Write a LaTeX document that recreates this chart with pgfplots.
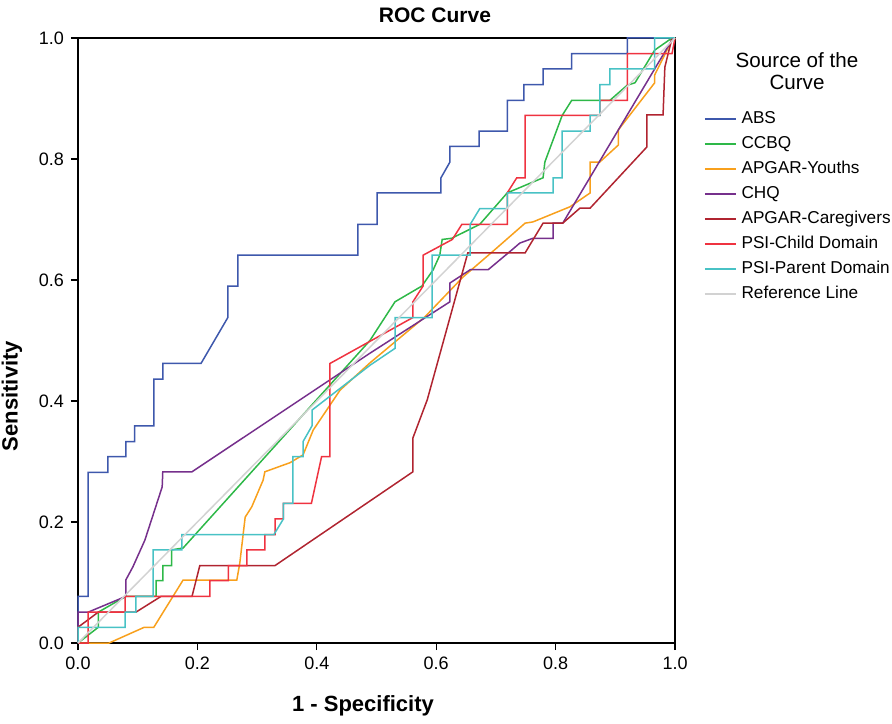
\documentclass[border=0pt]{standalone}
\usepackage{fontspec}
\setmainfont{Liberation Sans}
\usepackage{pgfplots}
\pgfplotsset{compat=1.18}

\definecolor{cABS}{RGB}{62,88,172}
\definecolor{cCCBQ}{RGB}{46,184,72}
\definecolor{cYouth}{RGB}{248,160,28}
\definecolor{cCHQ}{RGB}{118,48,140}
\definecolor{cCare}{RGB}{176,36,48}
\definecolor{cChild}{RGB}{239,51,64}
\definecolor{cParent}{RGB}{72,194,197}
\definecolor{cRef}{RGB}{210,210,210}

\begin{document}
\begin{tikzpicture}
\useasboundingbox (-39pt,-40pt) rectangle (407pt,321.5pt);
\begin{axis}[
    at={(0,0)}, anchor=south west,
    scale only axis, width=298.5pt, height=302.5pt,
    xmin=0, xmax=1, ymin=0, ymax=1,
    xtick={0,0.2,0.4,0.6,0.8,1},
    ytick={0,0.2,0.4,0.6,0.8,1},
    xtick pos=bottom, ytick pos=left,
    tick align=outside, major tick length=3.5pt,
    tick style={black, line width=0.6pt},
    axis line style={line width=0.8pt},
    ticklabel style={font=\fontsize{9}{10}\selectfont,
        /pgf/number format/fixed, /pgf/number format/fixed zerofill,
        /pgf/number format/precision=1},
    /pgf/number format/assume math mode=true,
    clip=false,
    every axis plot/.append style={line width=0.75pt, mark=none},
    legend cell align=left,
    legend style={at={(1.0486,0.8785)}, anchor=north west, draw=none, fill=none,
        inner sep=0pt, outer sep=0pt, row sep=5pt, column sep=2.5pt,
        font=\fontsize{8.6}{9}\selectfont,
        nodes={inner sep=0pt, text height=6pt, text depth=1.5pt}},
    legend image code/.code={\draw[#1] (0pt,0pt) -- (15.5pt,0pt);},
]
% ABS
\addplot[cABS] coordinates {
(0,0) (0,0.077) (0.017,0.077) (0.017,0.282) (0.050,0.282) (0.050,0.308)
(0.080,0.308) (0.080,0.333) (0.095,0.333) (0.095,0.359) (0.127,0.359)
(0.127,0.436) (0.142,0.436) (0.142,0.462) (0.206,0.462) (0.251,0.538)
(0.251,0.590) (0.268,0.590) (0.268,0.641) (0.469,0.641) (0.469,0.692)
(0.501,0.692) (0.501,0.744) (0.608,0.744) (0.608,0.769) (0.623,0.795)
(0.623,0.821) (0.672,0.821) (0.672,0.846) (0.719,0.846) (0.719,0.897)
(0.747,0.897) (0.747,0.923) (0.779,0.923) (0.779,0.949) (0.827,0.949)
(0.827,0.974) (0.920,0.974) (0.920,1) (1,1)
};
% CCBQ
\addplot[cCCBQ] coordinates {
(0,0) (0.034,0.026) (0.034,0.051) (0.080,0.077) (0.131,0.077) (0.131,0.103)
(0.142,0.103) (0.142,0.128) (0.157,0.128) (0.157,0.154) (0.176,0.157)
(0.489,0.500) (0.531,0.564) (0.576,0.590) (0.595,0.617) (0.606,0.641)
(0.610,0.667) (0.626,0.669) (0.673,0.692) (0.719,0.744) (0.779,0.769)
(0.782,0.795) (0.811,0.872) (0.827,0.897) (0.891,0.897) (0.920,0.922)
(0.933,0.926) (0.966,0.980) (0.995,1) (1,1)
};
% APGAR-Youths
\addplot[cYouth] coordinates {
(0,0) (0.052,0) (0.111,0.026) (0.127,0.026) (0.176,0.104) (0.266,0.104)
(0.271,0.132) (0.280,0.208) (0.291,0.225) (0.310,0.269) (0.313,0.283)
(0.355,0.298) (0.377,0.311) (0.394,0.352) (0.439,0.418) (0.489,0.463)
(0.581,0.539) (0.645,0.605) (0.698,0.650) (0.749,0.694) (0.762,0.696)
(0.824,0.721) (0.858,0.744) (0.858,0.795) (0.874,0.795) (0.905,0.823)
(0.905,0.848) (0.966,0.926) (0.966,0.939) (0.995,0.997) (1,1)
};
% CHQ
\addplot[cCHQ] coordinates {
(0,0) (0,0.051) (0.017,0.051) (0.080,0.077) (0.080,0.104) (0.092,0.126)
(0.112,0.170) (0.141,0.258) (0.142,0.283) (0.191,0.283) (0.489,0.479)
(0.623,0.564) (0.623,0.595) (0.657,0.617) (0.687,0.617) (0.727,0.650)
(0.740,0.661) (0.762,0.669) (0.796,0.669) (0.796,0.694) (0.812,0.694)
(0.995,0.997) (1,1)
};
% APGAR-Caregivers
\addplot[cCare] coordinates {
(0,0) (0,0.026) (0.034,0.051) (0.097,0.051) (0.139,0.077) (0.191,0.077)
(0.204,0.128) (0.330,0.128) (0.561,0.283) (0.561,0.339) (0.585,0.402)
(0.653,0.645) (0.749,0.645) (0.779,0.694) (0.812,0.694) (0.841,0.719)
(0.858,0.719) (0.953,0.820) (0.953,0.873) (0.980,0.873) (0.983,0.952)
(0.995,1) (1,1)
};
% PSI-Child Domain
\addplot[cChild] coordinates {
(0,0) (0.017,0) (0.017,0.051) (0.079,0.051) (0.079,0.077) (0.221,0.077)
(0.221,0.103) (0.252,0.103) (0.252,0.128) (0.283,0.128) (0.283,0.154)
(0.313,0.154) (0.313,0.179) (0.330,0.179) (0.330,0.205) (0.344,0.205)
(0.344,0.231) (0.391,0.231) (0.408,0.308) (0.422,0.308) (0.422,0.462)
(0.561,0.538) (0.561,0.564) (0.578,0.590) (0.578,0.641) (0.627,0.667)
(0.643,0.692) (0.719,0.692) (0.719,0.744) (0.735,0.769) (0.749,0.769)
(0.749,0.872) (0.874,0.872) (0.874,0.897) (0.920,0.897) (0.920,0.974)
(0.995,0.974) (1,1)
};
% PSI-Parent Domain
\addplot[cParent] coordinates {
(0,0) (0,0.026) (0.079,0.026) (0.079,0.051) (0.097,0.051) (0.097,0.077)
(0.126,0.077) (0.126,0.154) (0.174,0.154) (0.174,0.179) (0.328,0.179)
(0.344,0.205) (0.344,0.231) (0.360,0.231) (0.360,0.308) (0.377,0.308)
(0.377,0.333) (0.392,0.359) (0.392,0.385) (0.489,0.459) (0.531,0.487)
(0.531,0.538) (0.593,0.538) (0.593,0.641) (0.657,0.641) (0.657,0.692)
(0.673,0.718) (0.719,0.718) (0.719,0.744) (0.796,0.744) (0.796,0.769)
(0.811,0.769) (0.811,0.846) (0.858,0.846) (0.858,0.872) (0.874,0.872)
(0.874,0.923) (0.891,0.923) (0.891,0.949) (0.966,0.949) (0.966,1) (1,1)
};
% Reference Line
\addplot[cRef] coordinates {(0,0) (1,1)};
\legend{ABS, CCBQ, APGAR-Youths, CHQ, APGAR-Caregivers, PSI-Child Domain,
        PSI-Parent Domain, Reference Line}
\end{axis}
\node[font=\fontsize{10.5}{12}\selectfont\bfseries] at (178.5pt,314pt) {ROC Curve};
\node[font=\fontsize{11}{12}\selectfont\bfseries, rotate=90] at (-33pt,123.5pt) {Sensitivity};
\node[font=\fontsize{11}{12}\selectfont\bfseries] at (142.5pt,-31.5pt) {1 - Specificity};
\node[font=\fontsize{10.3}{12}\selectfont] at (359.5pt,291.5pt) {Source of the};
\node[font=\fontsize{10.3}{12}\selectfont] at (359.5pt,280.5pt) {Curve};
\end{tikzpicture}
\end{document}
